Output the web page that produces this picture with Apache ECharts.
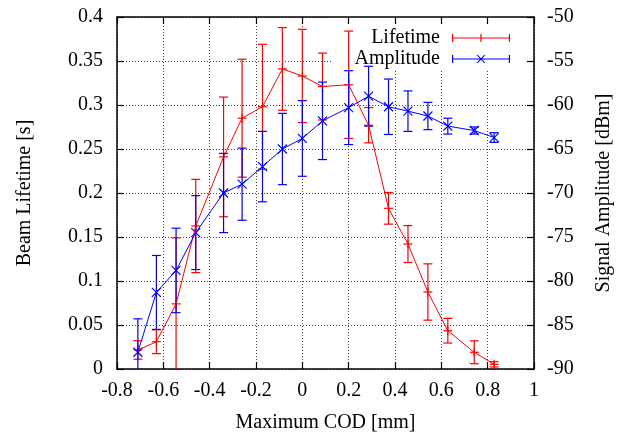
<!DOCTYPE html>
<html>
<head>
<meta charset="utf-8">
<script src="https://cdn.jsdelivr.net/npm/echarts@6/dist/echarts.min.js"></script>
<style>
  html, body { margin: 0; padding: 0; background: #fff; }
  #main { width: 624px; height: 432px; }
</style>
</head>
<body>
<div id="main"></div>
<script>
// Maximum COD [mm] (shared by both series)
var codX = [-0.71, -0.63, -0.545, -0.46, -0.34, -0.26, -0.172, -0.086, 0, 0.087, 0.2, 0.286, 0.372, 0.456, 0.542, 0.628, 0.742, 0.828];

// beam lifetime [s] and its error
var lifetime    = [0.0216, 0.031, 0.074, 0.1625, 0.241, 0.285, 0.298, 0.341, 0.333, 0.321, 0.323, 0.277, 0.1826, 0.142, 0.0875, 0.0435, 0.019, 0.0053];
var lifetimeErr = [0.0105, 0.0135, 0.075, 0.053, 0.068, 0.067, 0.071, 0.047, 0.053, 0.038, 0.061, 0.02, 0.018, 0.021, 0.032, 0.014, 0.013, 0.003];

// signal amplitude [dBm] and its error
var amplitude    = [-88.1, -81.3, -78.8, -74.5, -70.0, -69.0, -67.0, -65.0, -63.8, -61.8, -60.3, -59.0, -60.2, -60.7, -61.25, -62.4, -62.9, -63.7];
var amplitudeErr = [3.8, 4.2, 4.8, 4.2, 4.5, 4.1, 4.0, 4.05, 4.3, 4.4, 4.2, 3.4, 3.15, 2.3, 1.55, 0.9, 0.4, 0.55];

var RED = '#ff0000';
var BLUE = '#0000ff';
var FONT = 'Liberation Serif';

function points(vals) {
    return vals.map(function (v, i) { return [codX[i], v]; });
}
function bars(vals, errs) {
    return vals.map(function (v, i) { return [codX[i], v, v - errs[i], v + errs[i]]; });
}

// draws error bar with caps plus the point marker (gnuplot style)
function errorBar(color, marker) {
    return function (params, api) {
        var x = api.value(0);
        var p = api.coord([x, api.value(1)]);
        var lo = api.coord([x, api.value(2)]);
        var hi = api.coord([x, api.value(3)]);
        var w = 4.5, m = 4.5;
        var st = { stroke: color, lineWidth: 1.2, fill: null };
        var kids = [
            { type: 'line', shape: { x1: lo[0], y1: lo[1], x2: hi[0], y2: hi[1] }, style: st },
            { type: 'line', shape: { x1: lo[0] - w, y1: lo[1], x2: lo[0] + w, y2: lo[1] }, style: st },
            { type: 'line', shape: { x1: hi[0] - w, y1: hi[1], x2: hi[0] + w, y2: hi[1] }, style: st }
        ];
        if (marker === 'plus') {
            kids.push({ type: 'line', shape: { x1: p[0] - m, y1: p[1], x2: p[0] + m, y2: p[1] }, style: st });
            kids.push({ type: 'line', shape: { x1: p[0], y1: p[1] - m, x2: p[0], y2: p[1] + m }, style: st });
        } else {
            kids.push({ type: 'line', shape: { x1: p[0] - m, y1: p[1] - m, x2: p[0] + m, y2: p[1] + m }, style: st });
            kids.push({ type: 'line', shape: { x1: p[0] - m, y1: p[1] + m, x2: p[0] + m, y2: p[1] - m }, style: st });
        }
        return { type: 'group', children: kids };
    };
}

var iconLifetime = 'path://M0,0h1.2v8h-1.2z M56.8,0h1.2v8h-1.2z M0,3.4h58v1.2h-58z M28.4,0h1.2v8h-1.2z M24.5,3.4h9v1.2h-9z';
var iconAmplitude = 'path://M0,0h1.2v8h-1.2z M56.8,0h1.2v8h-1.2z M0,3.4h58v1.2h-58z M24.5,0L25.9,0L33.5,8L32.1,8Z M32.1,0L33.5,0L25.9,8L24.5,8Z';

var labelStyle = { fontFamily: FONT, fontSize: 20, color: '#000' };
var gridLine = { show: true, lineStyle: { color: '#444', width: 1, type: [1, 2] } };
var border = { show: true, onZero: false, lineStyle: { color: '#000', width: 1.5 } };
var tickIn = { show: true, inside: true, length: 7, lineStyle: { color: '#000', width: 1.2 } };

var myChart = echarts.init(document.getElementById('main'));
myChart.setOption({
    animation: false,
    grid: { left: 117, right: 90, top: 17, bottom: 63, outerBoundsMode: 'none', containLabel: false },
    legend: {
        orient: 'vertical',
        align: 'right',
        right: 91,
        top: 17,
        padding: [11, 23, 0, 22],
        itemGap: 1,
        itemWidth: 58,
        itemHeight: 8,
        z: 1,
        selectedMode: false,
        backgroundColor: '#fff',
        itemStyle: { borderWidth: 0 },
        textStyle: { fontFamily: FONT, fontSize: 20, color: '#000', padding: [0, 7, 0, 0] },
        data: [
            { name: 'Lifetime', icon: iconLifetime },
            { name: 'Amplitude', icon: iconAmplitude }
        ]
    },
    xAxis: [{
        type: 'value', position: 'bottom',
        min: -0.8, max: 1, interval: 0.2,
        name: 'Maximum COD [mm]', nameLocation: 'middle', nameGap: 44,
        nameTextStyle: labelStyle,
        axisLine: border, axisTick: tickIn,
        axisLabel: Object.assign({ margin: 12 }, labelStyle),
        splitLine: gridLine
    }, {
        type: 'value', position: 'top', z: 3,
        min: -0.8, max: 1, interval: 0.2,
        axisLine: border, axisTick: tickIn,
        axisLabel: { show: false }, splitLine: { show: false }
    }],
    yAxis: [{
        type: 'value', position: 'left',
        min: 0, max: 0.4, interval: 0.05,
        name: 'Beam Lifetime [s]', nameLocation: 'middle', nameGap: 82,
        nameTextStyle: labelStyle,
        axisLine: border, axisTick: tickIn,
        axisLabel: Object.assign({ margin: 14 }, labelStyle),
        splitLine: gridLine
    }, {
        type: 'value', position: 'right', z: 3,
        min: -90, max: -50, interval: 5,
        name: 'Signal Amplitude [dBm]', nameLocation: 'middle', nameGap: 60,
        nameTextStyle: labelStyle,
        axisLine: border, axisTick: tickIn,
        axisLabel: Object.assign({ margin: 13 }, labelStyle),
        splitLine: { show: false }
    }],
    series: [{
        name: 'Lifetime', type: 'line', xAxisIndex: 0, yAxisIndex: 0,
        data: points(lifetime), symbol: 'none', z: 2,
        itemStyle: { color: RED }, lineStyle: { color: RED, width: 1 }
    }, {
        name: 'LifetimeErr', type: 'custom', xAxisIndex: 0, yAxisIndex: 0,
        data: bars(lifetime, lifetimeErr), clip: true, z: 2,
        encode: { x: 0, y: 1 },
        renderItem: errorBar(RED, 'plus')
    }, {
        name: 'Amplitude', type: 'line', xAxisIndex: 0, yAxisIndex: 1,
        data: points(amplitude), symbol: 'none', z: 2,
        itemStyle: { color: BLUE }, lineStyle: { color: BLUE, width: 1 }
    }, {
        name: 'AmplitudeErr', type: 'custom', xAxisIndex: 0, yAxisIndex: 1,
        data: bars(amplitude, amplitudeErr), clip: true, z: 2,
        encode: { x: 0, y: 1 },
        renderItem: errorBar(BLUE, 'cross')
    }]
});
</script>
</body>
</html>
